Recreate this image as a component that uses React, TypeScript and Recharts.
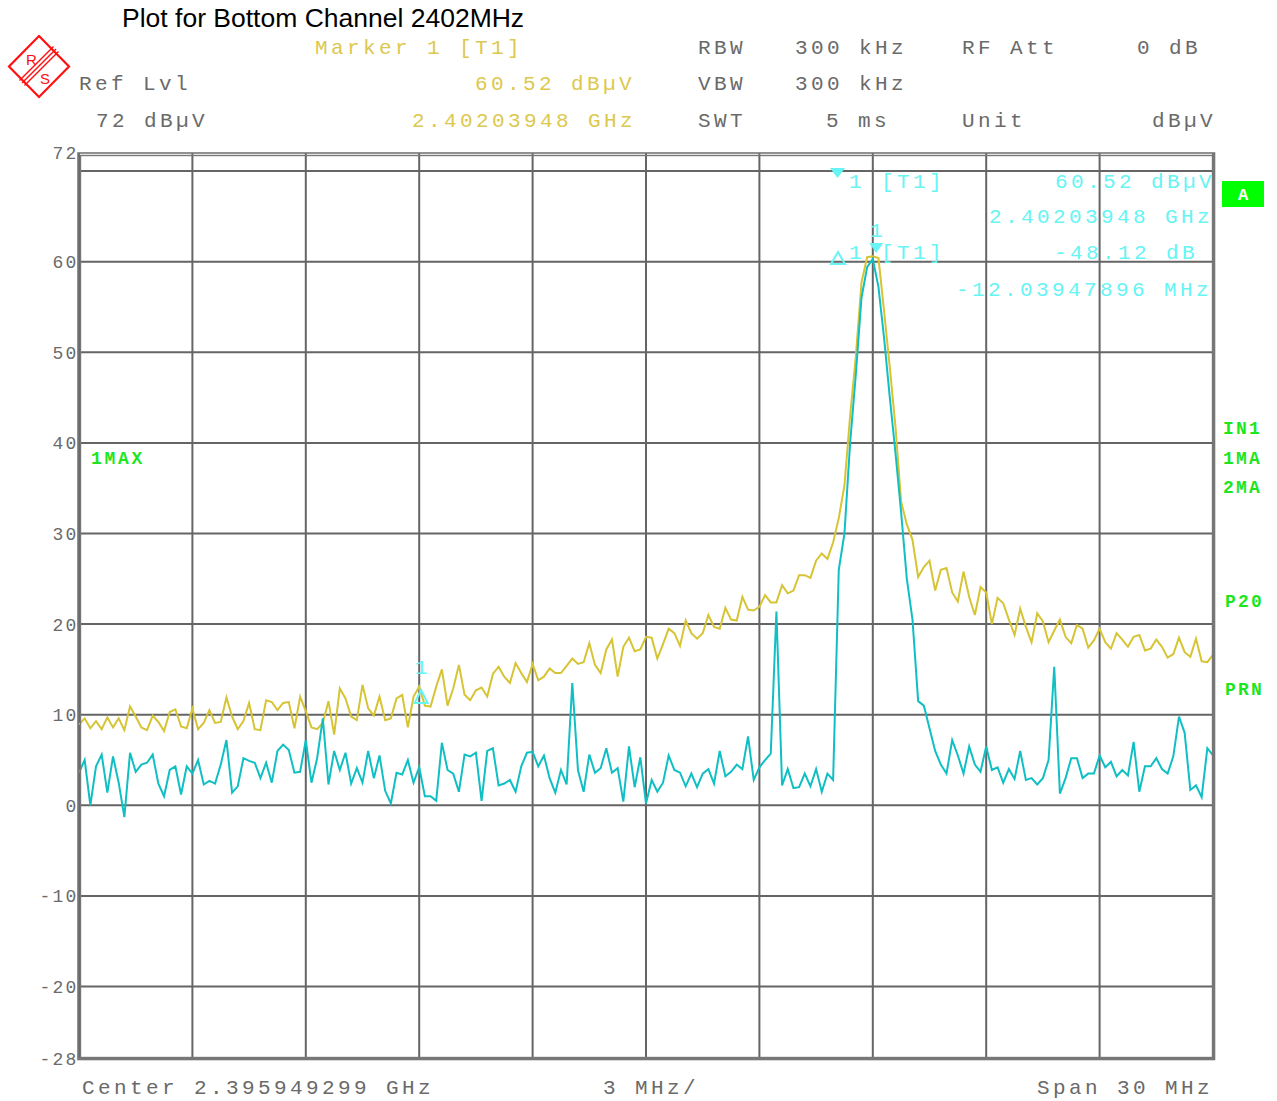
import React from 'react';
import { LineChart, Line, XAxis, YAxis, CartesianGrid, ReferenceDot } from 'recharts';

// ---- chart settings / categories ----
const TITLE = 'Plot for Bottom Channel 2402MHz';
const CENTER_MHZ = 2395.949299;
const SPAN_MHZ = 30;
const DIV_MHZ = 3;
const Y_TICKS = [72, 60, 50, 40, 30, 20, 10, 0, -10, -20, -28];
const Y_GRID = [70, 60, 50, 40, 30, 20, 10, 0, -10, -20];

// ---- trace 1 (yellow, max hold) in dBuV, equally spaced over the span ----
const TRACE1 = [
  8.9, 9.6, 8.5, 9.3, 8.4, 9.7, 8.6, 9.6, 8.3, 10.9,
  9.8, 8.6, 8.3, 9.9, 9.2, 8.2, 10.3, 10.6, 8.7, 8.5,
  10.7, 8.4, 9.1, 10.5, 9.1, 9.2, 11.9, 9.8, 8.4, 9.3,
  11.3, 8.4, 8.3, 11.6, 11.4, 10.5, 11.3, 11.4, 8.5, 12.0,
  10.4, 8.6, 8.4, 9.1, 11.5, 7.8, 12.9, 11.8, 9.8, 9.4,
  13.3, 10.7, 9.9, 12.0, 9.4, 9.6, 11.8, 12.2, 8.6, 12.0,
  13.1, 11.0, 10.9, 13.1, 15.0, 11.0, 12.9, 15.5, 12.2, 11.6,
  12.7, 13.0, 12.0, 14.5, 15.3, 14.2, 13.5, 15.7, 14.6, 13.6,
  15.6, 13.8, 14.2, 15.1, 14.6, 14.6, 15.4, 16.2, 15.6, 15.8,
  17.9, 15.5, 14.6, 17.2, 18.3, 14.2, 17.5, 18.5, 17.0, 17.2,
  18.6, 18.5, 16.2, 17.8, 19.5, 19.0, 17.6, 20.4, 19.0, 18.4,
  19.0, 21.0, 19.7, 19.5, 21.8, 20.5, 20.4, 23.0, 21.6, 21.5,
  21.9, 23.2, 22.4, 22.4, 24.3, 23.4, 23.7, 25.4, 25.4, 25.1,
  27.0, 27.8, 27.2, 29.0, 31.7, 35.3, 43.0, 49.5, 57.7, 60.5,
  60.6, 60.4, 54.5, 48.3, 41.8, 33.5, 31.0, 29.3, 25.2, 26.3,
  27.0, 23.7, 26.0, 26.2, 23.5, 22.5, 25.8, 23.0, 21.0, 24.1,
  23.5, 20.0, 22.9, 22.3, 20.5, 18.8, 21.7, 19.7, 18.0, 21.2,
  20.3, 18.0, 19.3, 20.5, 18.6, 17.9, 19.9, 19.5, 17.4, 18.2,
  19.5, 18.0, 17.3, 19.0, 18.3, 17.5, 18.6, 18.8, 17.1, 17.3,
  18.3, 17.5, 16.3, 16.7, 18.5, 16.9, 16.4, 18.4, 15.9, 15.8,
  16.6,
];

// ---- trace 2 (cyan, clear/write) in dBuV ----
const TRACE2 = [
  3.6, 5.0, 0.0, 4.3, 5.6, 1.4, 5.4, 2.5, -1.3, 5.8,
  3.7, 4.5, 4.7, 5.6, 2.4, 1.0, 3.9, 4.3, 1.2, 4.3,
  3.5, 5.0, 2.3, 2.7, 2.4, 4.5, 7.2, 1.4, 2.1, 5.2,
  4.9, 4.7, 3.0, 4.7, 2.5, 6.0, 6.7, 6.1, 3.6, 3.7,
  7.2, 2.5, 5.2, 9.6, 2.3, 6.0, 3.9, 5.8, 2.4, 4.1,
  2.5, 6.0, 3.0, 5.5, 1.6, 0.2, 3.6, 3.4, 5.0, 2.5,
  4.2, 1.0, 1.0, 0.5, 6.9, 3.9, 3.5, 1.5, 5.6, 5.4,
  5.8, 0.5, 6.0, 6.3, 2.2, 2.4, 2.8, 1.5, 4.3, 5.8,
  5.9, 4.3, 5.5, 3.0, 1.4, 3.9, 2.3, 13.5, 3.9, 1.5,
  5.6, 3.6, 4.1, 6.3, 3.6, 4.1, 0.4, 6.5, 2.0, 5.3,
  0.2, 2.8, 1.5, 2.5, 5.5, 3.9, 3.6, 2.1, 3.5, 2.0,
  3.5, 4.0, 2.4, 6.0, 3.2, 3.7, 4.5, 4.0, 7.6, 2.8,
  4.2, 5.0, 5.7, 21.4, 2.2, 4.0, 1.9, 2.0, 3.5, 2.1,
  4.0, 1.5, 3.5, 2.8, 26.0, 30.0, 40.0, 47.5, 56.0, 59.4,
  60.3, 57.2, 51.5, 45.0, 38.9, 32.3, 25.0, 20.5, 11.5, 11.0,
  8.5, 6.0, 4.5, 3.5, 7.2, 5.5, 3.5, 6.5, 4.5, 3.7,
  6.5, 3.9, 4.2, 2.5, 4.0, 2.9, 6.0, 2.8, 3.0, 2.3,
  3.0, 5.0, 15.3, 1.3, 3.0, 5.2, 5.2, 3.0, 3.5, 3.5,
  5.5, 4.2, 4.8, 3.2, 3.9, 3.3, 7.0, 1.5, 4.3, 4.3,
  5.2, 4.0, 3.5, 5.4, 9.8, 8.0, 1.7, 2.2, 0.9, 6.3,
  5.5,
];

// ---- markers ----
const MARKER1_MHZ = 2402.03948;
const MARKER1_DBUV = 60.52;
const DELTA1_OFFSET_MHZ = -12.03947896;
const DELTA1_DB = -48.12;

const START_MHZ = CENTER_MHZ - SPAN_MHZ / 2;
const STOP_MHZ = CENTER_MHZ + SPAN_MHZ / 2;
const STEP_MHZ = SPAN_MHZ / (TRACE1.length - 1);
const X_GRID = Array.from({ length: SPAN_MHZ / DIV_MHZ + 1 }, (_, k) => START_MHZ + k * DIV_MHZ);

const rows = TRACE1.map((v, i) => ({ f: START_MHZ + i * STEP_MHZ, t1: v, t2: TRACE2[i] }));

const MONO = "'Liberation Mono', 'Courier New', monospace";
const GRAY = '#6a6a6a';
const YEL_TXT = '#dcc84e';
const CYAN_TXT = '#66f4f4';
const GREEN = '#1ee61e';
const YEL = '#d6c435';
const CYAN = '#10bfc4';

const T = (p: { x: number; y: number; c: string; children: React.ReactNode; size?: number; ls?: number; bold?: boolean }) => (
  <text x={p.x} y={p.y} fill={p.c} fontFamily={MONO} fontSize={p.size ?? 21} letterSpacing={p.ls ?? 3.4} fontWeight={p.bold ? 'bold' : 'normal'}>
    {p.children}
  </text>
);

const YTick = (props: any) => {
  const { x, y, payload } = props;
  return (
    <text x={x - 0.5} y={y} dy="0.36em" textAnchor="end" fill={GRAY} fontFamily={MONO} fontSize={18} letterSpacing={2.2}>
      {payload.value}
    </text>
  );
};

const PeakMarker = (props: any) => {
  const { cx, cy } = props;
  return (
    <g>
      <polygon points={`${cx - 7},${cy - 14} ${cx + 7},${cy - 14} ${cx},${cy - 4}`} fill={CYAN_TXT} />
      <text x={cx} y={cy - 20} textAnchor="middle" fill={CYAN_TXT} fontFamily={MONO} fontSize={21}>1</text>
    </g>
  );
};

const DeltaMarker = (props: any) => {
  const { cx, cy } = props;
  return (
    <g>
      <polygon points={`${cx - 6.5},${cy + 10} ${cx + 6.5},${cy + 10} ${cx},${cy - 3}`} fill="none" stroke={CYAN_TXT} strokeWidth={2} />
      <text x={cx} y={cy - 19} textAnchor="middle" fill={CYAN_TXT} fontFamily={MONO} fontSize={21}>1</text>
    </g>
  );
};

export default function App() {
  return (
    <div style={{ position: 'absolute', left: 0, top: 0, width: 1277, height: 1101, background: '#fff' }}>
      <LineChart width={1277} height={1101} data={rows} margin={{ top: 153, right: 64, bottom: 42, left: 19 }}>
        <CartesianGrid stroke="#656565" strokeWidth={2} horizontalValues={Y_GRID} verticalValues={X_GRID} fill="none" />
        <XAxis dataKey="f" type="number" domain={[START_MHZ, STOP_MHZ]} hide allowDataOverflow />
        <YAxis
          type="number"
          domain={[-28, 72]}
          ticks={Y_TICKS}
          width={60}
          axisLine={false}
          tickLine={false}
          tickSize={0}
          tickMargin={0}
          tick={<YTick />}
          interval={0}
          allowDataOverflow
        />
        <Line type="linear" dataKey="t1" stroke={YEL} strokeWidth={2} dot={false} isAnimationActive={false} />
        <Line type="linear" dataKey="t2" stroke={CYAN} strokeWidth={2} dot={false} isAnimationActive={false} />
        <ReferenceDot x={MARKER1_MHZ} y={MARKER1_DBUV} shape={<PeakMarker />} ifOverflow="visible" />
        <ReferenceDot
          x={MARKER1_MHZ + DELTA1_OFFSET_MHZ}
          y={MARKER1_DBUV + DELTA1_DB}
          shape={<DeltaMarker />}
          ifOverflow="visible"
        />
      </LineChart>
      <svg width={1277} height={1101} style={{ position: 'absolute', left: 0, top: 0, pointerEvents: 'none' }}>
        {/* frame */}
        <rect x={78} y={153} width={1136.5} height={906.5} fill="none" stroke="#777" strokeWidth={1.6} />
        <rect x={80.5} y={155.5} width={1132} height={902} fill="none" stroke="#777" strokeWidth={1.4} />
        <line x1={1213.5} y1={153} x2={1213.5} y2={1060} stroke="#777" strokeWidth={2} />
        <line x1={78} y1={1058} x2={1214} y2={1058} stroke="#777" strokeWidth={2} />

        {/* title */}
        <text x={122} y={27} fontFamily="'Liberation Sans', Arial, sans-serif" fontSize={26.5} fill="#000">{TITLE}</text>

        {/* logo */}
        <g>
          <polygon points="39,36 69,66.5 39,97 9,66.5" fill="none" stroke="#ff1010" strokeWidth={2.2} />
          <line x1={56} y1={49} x2={22} y2={83} stroke="#ff1010" strokeWidth={1.4} />
          <line x1={58.5} y1={51.5} x2={24.5} y2={85.5} stroke="#ff1010" strokeWidth={1.4} />
          <line x1={53.5} y1={46.5} x2={19.5} y2={80.5} stroke="#ff1010" strokeWidth={1.4} />
          <text x={26} y={65} fontFamily="'Liberation Sans', Arial, sans-serif" fontSize={15} fill="#ff1010">R</text>
          <text x={40} y={84} fontFamily="'Liberation Sans', Arial, sans-serif" fontSize={15} fill="#ff1010">S</text>
        </g>

        {/* header */}
        <T x={315} y={54} c={YEL_TXT}>Marker 1 [T1]</T>
        <T x={79} y={90} c={GRAY}>Ref Lvl</T>
        <T x={475} y={90} c={YEL_TXT}>60.52 dBµV</T>
        <T x={96} y={126.5} c={GRAY}>72 dBµV</T>
        <T x={412} y={126.5} c={YEL_TXT}>2.40203948 GHz</T>
        <T x={698} y={54} c={GRAY}>RBW</T>
        <T x={795} y={54} c={GRAY}>300 kHz</T>
        <T x={962} y={54} c={GRAY}>RF Att</T>
        <T x={1137} y={54} c={GRAY}>0 dB</T>
        <T x={698} y={90} c={GRAY}>VBW</T>
        <T x={795} y={90} c={GRAY}>300 kHz</T>
        <T x={698} y={126.5} c={GRAY}>SWT</T>
        <T x={826} y={126.5} c={GRAY}>5 ms</T>
        <T x={962} y={126.5} c={GRAY}>Unit</T>
        <T x={1152} y={126.5} c={GRAY}>dBµV</T>

        {/* marker info */}
        <polygon points="830,168 845,168 837.5,178" fill={CYAN_TXT} />
        <T x={849} y={188} c={CYAN_TXT}>1</T>
        <T x={881} y={188} c={CYAN_TXT}>[T1]</T>
        <T x={1055} y={188} c={CYAN_TXT}>60.52 dBµV</T>
        <T x={989} y={223} c={CYAN_TXT}>2.40203948 GHz</T>
        <polygon points="831,264 845,264 838,252" fill="none" stroke={CYAN_TXT} strokeWidth={2} />
        <T x={849} y={259} c={CYAN_TXT}>1</T>
        <T x={881} y={259} c={CYAN_TXT}>[T1]</T>
        <T x={1054} y={259} c={CYAN_TXT}>-48.12 dB</T>
        <T x={956} y={296} c={CYAN_TXT}>-12.03947896 MHz</T>

        {/* side labels */}
        <rect x={1222} y={181} width={42} height={26} fill="#00ff00" />
        <text x={1243} y={200} textAnchor="middle" fill="#fff" fontFamily={MONO} fontSize={17} fontWeight="bold">A</text>
        <T x={91} y={464} c={GREEN} size={18} ls={2.7} bold>1MAX</T>
        <T x={1223} y={434} c={GREEN} size={18} ls={2.2} bold>IN1</T>
        <T x={1223} y={464} c={GREEN} size={18} ls={2.2} bold>1MA</T>
        <T x={1223} y={493} c={GREEN} size={18} ls={2.2} bold>2MA</T>
        <T x={1225} y={607} c={GREEN} size={18} ls={2.2} bold>P20</T>
        <T x={1225} y={695} c={GREEN} size={18} ls={2.2} bold>PRN</T>

        {/* footer */}
        <T x={82} y={1094} c={GRAY}>Center 2.395949299 GHz</T>
        <T x={603} y={1094} c={GRAY}>3 MHz/</T>
        <T x={1037} y={1094} c={GRAY}>Span 30 MHz</T>
      </svg>
    </div>
  );
}
